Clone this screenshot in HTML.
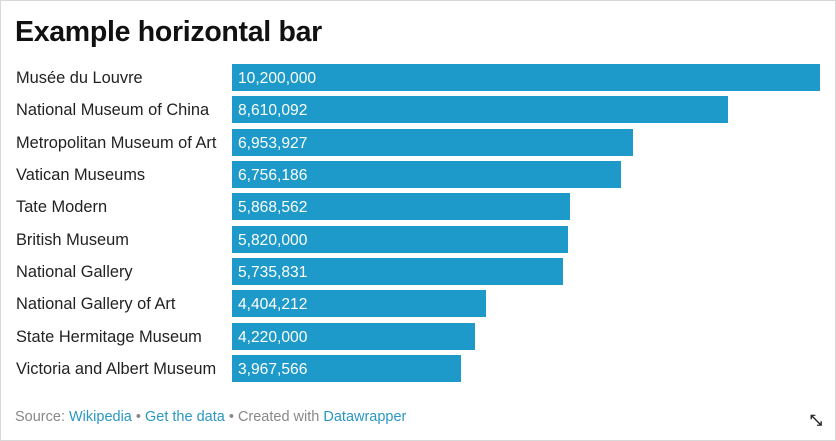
<!DOCTYPE html>
<html><head><meta charset="utf-8"><style>
body{margin:0;width:836px;height:441px;background:#fff;font-family:"Liberation Sans",sans-serif;overflow:hidden}
#frame{position:absolute;left:0;top:0;width:834px;height:439px;border:1px solid #d8d8d8}
h1{position:absolute;left:15px;top:16px;margin:0;font-size:28.5px;font-weight:bold;color:#111;letter-spacing:-0.3px}
.lbl{position:absolute;left:16px;font-size:16.4px;color:#222;line-height:27px;white-space:nowrap;top:1px}
.bar{position:absolute;left:232px;height:27px;background:#1d9ac9}
.val{position:absolute;left:238px;font-size:15.6px;color:#fff;line-height:27px}
#foot{position:absolute;left:15px;top:409px;font-size:14.5px;color:#888}
#foot a{color:#2a97c2;text-decoration:none}
#expand{position:absolute;left:810px;top:412px;font-size:15px;font-weight:bold;color:#222}
</style></head><body>
<div id="frame"></div>
<h1>Example horizontal bar</h1>
<div id="chart"></div>
<div id="foot">Source: <a>Wikipedia</a> • <a>Get the data</a> • Created with <a>Datawrapper</a></div>
<div id="expand">⤡</div>
<script>
const categories=["Musée du Louvre","National Museum of China","Metropolitan Museum of Art","Vatican Museums","Tate Modern","British Museum","National Gallery","National Gallery of Art","State Hermitage Museum","Victoria and Albert Museum"];
const values=[10200000,8610092,6953927,6756186,5868562,5820000,5735831,4404212,4220000,3967566];
const xMax=10200000;
function x(v){return v/xMax*588;}
function y(i){return 64+i*32.35;}
const c=document.getElementById('chart');
categories.forEach((cat,i)=>{
  const l=document.createElement('div');l.className='lbl';l.style.top=(y(i)+1)+'px';l.textContent=cat;
  
  
  c.appendChild(l);
  const b=document.createElement('div');b.className='bar';b.style.top=y(i)+'px';b.style.width=x(values[i])+'px';
  
  
  c.appendChild(b);
  const v=document.createElement('div');v.className='val';v.style.top=(y(i)+1)+'px';v.textContent=values[i].toLocaleString('en-US');
  
  
  c.appendChild(v);
});
</script>
</body></html>
